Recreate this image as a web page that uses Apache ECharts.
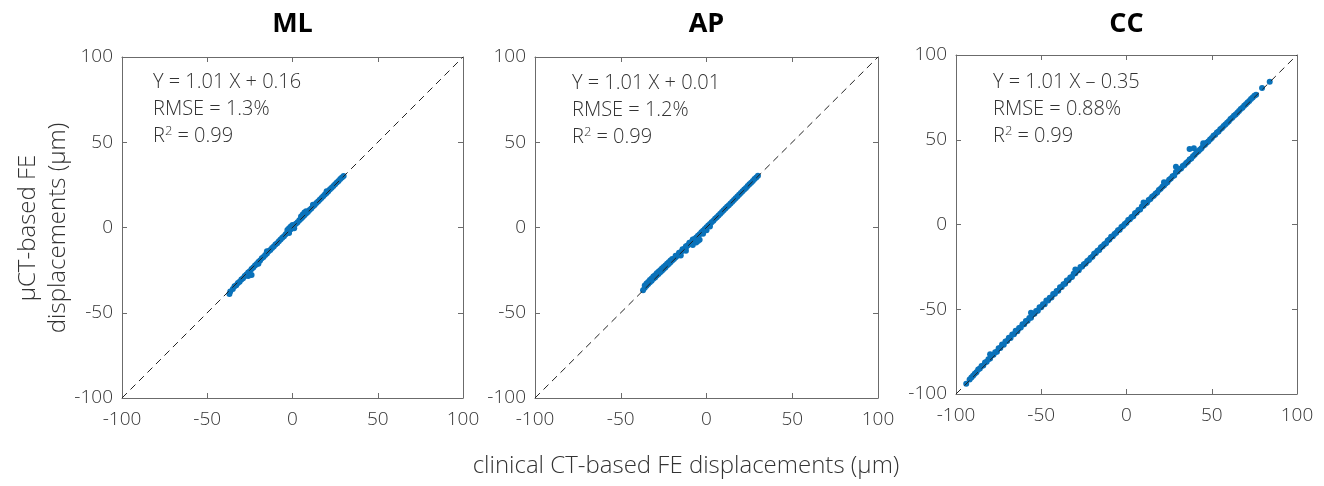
<!DOCTYPE html>
<html>
<head>
<meta charset="utf-8">
<script src="https://cdn.jsdelivr.net/npm/echarts@6/dist/echarts.min.js"></script>
<style>
  html, body { margin: 0; padding: 0; background: #fff; }
  #main { width: 1324px; height: 486px; }
</style>
</head>
<body>
<div id="main"></div>
<script>
// panel names and fit texts
var panelNames = ['ML', 'AP', 'CC'];
var fitLines = ['Y = 1.01 X + 0.16', 'Y = 1.01 X + 0.01', 'Y = 1.01 X \u2013 0.35'];
var rmseLines = ['RMSE = 1.3%', 'RMSE = 1.2%', 'RMSE = 0.88%'];
var r2Values = ['0.99', '0.99', '0.99'];
var tickValues = [-100, -50, 0, 50, 100];

// ML: clinical CT (x) vs uCT (y)
var mlPoints = [
  [-37,-39],[-36.5,-37.5],[-35,-36],[-34,-34.5],[-33,-33.8],[-32,-32.5],[-31,-31.8],[-30,-30.5],[-29,-29.8],[-28,-28.5],
  [-27,-27.6],[-26,-26.4],[-25,-25.6],[-24,-24.4],[-23,-23.5],[-22,-22.3],[-21,-21.4],[-20,-20.2],[-19,-19.4],[-18,-18.1],
  [-17,-17.3],[-16,-16.1],[-15,-15.3],[-14,-14.0],[-13,-13.2],[-12,-12.0],[-11,-11.2],[-10,-10.0],[-9,-9.2],[-8,-8.0],
  [-7,-7.1],[-6,-6.0],[-5,-5.2],[-4,-4.0],[-3,-3.0],[-2,-1.8],[-1,-1.0],[0,0.2],[1,1.1],[2,2.2],[3,3.1],[4,4.2],[5,5.1],
  [6,6.2],[7,7.2],[8,8.2],[9,9.1],[10,10.3],[11,11.2],[12,12.3],[13,13.2],[14,14.3],[15,15.2],[16,16.3],[17,17.3],
  [18,18.3],[19,19.3],[20,20.3],[21,21.3],[22,22.4],[23,23.3],[24,24.4],[25,25.3],[26,26.4],[27,27.3],[28,28.4],
  [29,29.3],[30,30.2],
  [-3,-1.5],[-2,-0.4],[-1,0.6],[0,1.4],[1,-0.4],[-2,-3.2],[6,7.6],[7,8.8],[8,9.5],[5,6.5],[-26,-28.4],[-24,-27.9],
  [-20,-21.2],[-15,-14.0],[12,13.4],[20,21.2]
];

// AP
var apPoints = [
  [-37,-36.8],[-36,-35.3],[-35,-34.2],[-34,-33.2],[-33,-32.1],[-32,-31.2],[-31,-30.1],[-30,-29.3],[-29,-28.2],[-28,-27.3],
  [-27,-26.2],[-26,-25.3],[-25,-24.3],[-24,-23.4],[-23,-22.3],[-22,-21.4],[-21,-20.4],[-20,-19.4],[-19,-18.5],[-18,-17.4],
  [-17,-16.5],[-16,-15.6],[-15,-14.5],[-14,-13.6],[-13,-12.6],[-12,-11.7],[-11,-10.6],[-10,-9.7],[-9,-8.7],[-8,-7.8],
  [-7,-6.7],[-6,-5.8],[-5,-4.8],[-4,-3.9],[-3,-2.8],[-2,-1.9],[-1,-0.9],[0,0.1],[1,1.1],[2,2.0],[3,3.1],[4,4.0],[5,5.1],
  [6,6.0],[7,7.1],[8,8.0],[9,9.1],[10,10.1],[11,11.1],[12,12.1],[13,13.1],[14,14.1],[15,15.1],[16,16.2],[17,17.1],
  [18,18.2],[19,19.2],[20,20.2],[21,21.2],[22,22.3],[23,23.2],[24,24.3],[25,25.3],[26,26.3],[27,27.3],[28,28.4],
  [29,29.3],[30,30.4],
  [-36,-34.0],[-35,-32.8],[-34,-31.9],[-33,-30.8],[-32,-29.9],[-31,-28.8],[-30,-28.0],[-29,-26.9],[-28,-26.0],
  [-27,-25.0],[-26,-24.1],[-25,-23.1],[-24,-22.3],[-23,-21.2],[-22,-20.4],[-21,-19.3],[-20,-18.5],[-18,-16.6],
  [-16,-14.8],[-14,-12.8],[-12,-11.0],[-10,-8.9],[-8,-7.0],
  [-8,-10.3],[-6,-8.8],[-4,-7.2],[-5,-7.9],[-2,-3.6],[0,-1.6],[2,0.6],[-12,-13.6],[-15,-16.4]
];

// CC
var ccPoints = [
  [-94,-94],[79.5,80.5],[84,84.2],[37,44.5],[39.5,45],[29,34],[-80,-76.5],[-56,-52],[-30,-26.5],[10,13],[22,25],[45,48],
  [-92,-91.4],[-90,-89.2],[-88,-87.1],[-86,-85.0],[-84,-83.2],[-82,-81.0],[-80,-79.1],[-78,-76.8],[-76,-75.0],[-74,-72.9],
  [-72,-71.0],[-70,-68.8],[-68,-66.9],[-66,-64.8],[-64,-63.0],[-62,-60.7],[-60,-58.9],[-58,-56.8],[-56,-55.0],[-54,-52.7],
  [-52,-50.9],[-50,-48.8],[-48,-47.0],[-46,-44.8],[-44,-43.0],[-42,-40.9],[-40,-39.1],[-38,-36.8],[-36,-35.0],[-34,-32.9],
  [-32,-31.0],[-30,-28.8],[-28,-27.0],[-26,-24.8],[-24,-23.0],[-22,-20.9],[-20,-19.0],[-18,-16.8],[-16,-15.0],[-14,-12.8],
  [-12,-11.1],[-10,-8.8],[-8,-7.0],[-6,-4.9],[-4,-3.1],[-2,-0.9],[0,1.0],[2,3.1],[4,4.9],[6,7.1],[8,8.9],[10,11.1],
  [12,12.9],[14,15.0],[16,17.0],[18,18.9],[20,21.1],[22,23.0],[24,25.0],[26,27.1],[28,28.9],[30,31.2],[32,33.0],[34,35.1],
  [36,37.0],[38,39.0],[40,41.1],[42,43.0],[44,45.0],[46,47.1],[48,48.9],[50,51.0],[52,53.0],[54,54.9],[56,57.0],[58,59.0],
  [60,60.9],[62,63.0],[64,64.9],[66,67.0],[68,68.9],[70,71.0],[72,72.9],[74,75.0],[76,76.6],
  [-91,-90.2],[-89,-88.0],[-87,-85.6],[-85,-83.5],[-83,-81.4],[-81,-79.5],[-79,-77.2],[-77,-75.3],[-75,-73.0],[-73,-70.8],
  [-71,-69.0],[-69,-66.8],[-67,-64.9],[-65,-62.7],[-63,-61.0],[-61,-58.8],[-59,-56.9],[-57,-55.2],[-55,-52.9],[-53,-51.0],
  [-51,-48.8],[-49,-47.1],[-47,-44.9],[-45,-43.2],[-43,-41.0],[-41,-39.3],[-39,-37.0],[-37,-35.2],[-35,-33.0],[-33,-31.3],
  [-31,-29.1],[-29,-27.2],[-27,-25.0],[-25,-23.4],[-23,-21.5],[-21,-19.6],[-19,-17.3],[-17,-15.5],[-15,-13.4],[-13,-11.7],
  [-11,-9.5],[-9,-7.3],[-7,-5.6],[-5,-3.4],[-3,-1.5],[-1,0.3],[1,2.6],[3,4.4],[5,6.7],[7,8.5],[9,10.6],[11,12.4],
  [13,14.5],[15,16.3],[17,18.2],[19,20.4],[21,22.3],[23,24.2],[25,26.4],[27,28.5],[29,31.0],[31,32.6],[33,34.5],[35,36.3],
  [37,38.4],[39,40.2],[41,42.3],[43,44.1],[45,46.4],[47,48.3],[49,50.2],[51,52.4],[53,54.3],[55,56.2],[57,58.1],[59,60.0],
  [61,62.2],[63,64.1],[65,66.0],[67,68.1],[69,70.0],[71,72.0],[73,74.0],[75,75.9]
];
var identityLine = [[-100, -100], [100, 100]];

var FONT = "'Open Sans', 'Noto Sans', sans-serif";
var TEXT_C = '#333';
var grids = [
  { left: 122, top: 57, width: 341, height: 341 },
  { left: 535, top: 57, width: 343, height: 341 },
  { left: 956, top: 55, width: 341, height: 339 }
];
var allPoints = [mlPoints, apPoints, ccPoints];

var xAxes = [], yAxes = [], series = [], graphics = [];
var axisBase = {
  type: 'value', min: tickValues[0], max: tickValues[tickValues.length - 1], interval: 50,
  axisLine: { show: true, onZero: false, lineStyle: { color: '#6b6b6b', width: 1 } },
  axisTick: { show: true, inside: true, length: 5, lineStyle: { color: '#6b6b6b' } },
  splitLine: { show: false }
};
var labelStyle = { fontFamily: FONT, fontWeight: 300, fontSize: 19, color: TEXT_C };

for (var i = 0; i < 3; i++) {
  xAxes.push(Object.assign({}, axisBase, { gridIndex: i, position: 'bottom',
    axisLabel: Object.assign({ margin: 12 }, labelStyle) }));
  xAxes.push(Object.assign({}, axisBase, { gridIndex: i, position: 'top', axisLabel: { show: false } }));
  yAxes.push(Object.assign({}, axisBase, { gridIndex: i, position: 'left',
    axisLabel: Object.assign({ margin: 9 }, labelStyle) }));
  yAxes.push(Object.assign({}, axisBase, { gridIndex: i, position: 'right', axisLabel: { show: false } }));

  series.push({
    type: 'scatter', xAxisIndex: i * 2, yAxisIndex: i * 2,
    data: allPoints[i], symbolSize: 6,
    itemStyle: { color: '#0a72ba', opacity: 1 }, z: 2, silent: true
  });
  series.push({
    type: 'line', xAxisIndex: i * 2, yAxisIndex: i * 2, data: identityLine,
    symbol: 'none', lineStyle: { color: '#222', width: 1, type: [7, 5] }, z: 3, silent: true
  });

  var g = grids[i];
  graphics.push({
    type: 'text', x: g.left + g.width / 2, y: 24,
    style: { text: panelNames[i], font: 'bold 27px ' + FONT, fill: '#000', align: 'center', verticalAlign: 'middle' }
  });
  var tx = [153, 572, 993][i];
  var ty = [82, 83, 82][i];
  graphics.push({
    type: 'text', x: tx, y: ty,
    style: { text: fitLines[i], font: '300 20px ' + FONT, fill: TEXT_C, verticalAlign: 'middle' }
  });
  graphics.push({
    type: 'text', x: tx, y: ty + 27,
    style: { text: rmseLines[i], font: '300 20px ' + FONT, fill: TEXT_C, verticalAlign: 'middle' }
  });
  graphics.push({
    type: 'text', x: tx, y: ty + 54,
    style: {
      text: '{a|R}{s|2}{a| = ' + r2Values[i] + '}', verticalAlign: 'middle',
      rich: {
        a: { fontFamily: FONT, fontWeight: 300, fontSize: 20, fill: TEXT_C, color: TEXT_C },
        s: { fontFamily: FONT, fontWeight: 300, fontSize: 13, fill: TEXT_C, color: TEXT_C, verticalAlign: 'top', padding: [0, 0, 9, 0] }
      }
    }
  });
}

graphics.push({
  type: 'text', x: 686, y: 466,
  style: { text: 'clinical CT-based FE displacements (\u03bcm)', font: '300 24px ' + FONT, fill: TEXT_C,
    align: 'center', verticalAlign: 'middle' }
});
graphics.push({
  type: 'text', x: 43, y: 228, rotation: Math.PI / 2,
  style: { text: '\u03bcCT-based FE\ndisplacements (\u03bcm)', font: '300 24px ' + FONT, fill: TEXT_C,
    align: 'center', verticalAlign: 'middle', lineHeight: 30 }
});

var chart = echarts.init(document.getElementById('main'), null, { renderer: 'canvas' });
chart.setOption({
  backgroundColor: '#fff',
  animation: false,
  grid: grids,
  xAxis: xAxes,
  yAxis: yAxes,
  series: series,
  graphic: graphics
});
</script>
</body>
</html>
